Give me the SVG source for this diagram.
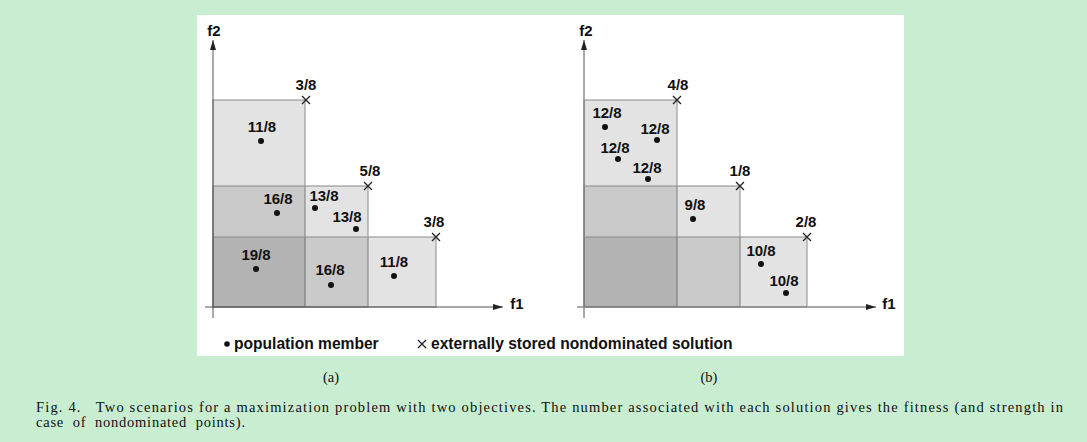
<svg xmlns="http://www.w3.org/2000/svg" width="1087" height="442" viewBox="0 0 1087 442">
<defs>
<style>
.lbl{font-family:"Liberation Sans",Arial,sans-serif;font-weight:bold;font-size:15px;fill:#111;text-anchor:middle}
.leg{font-family:"Liberation Sans",Arial,sans-serif;font-weight:bold;font-size:15.6px;fill:#111}
.ax{stroke:#555;stroke-width:1;fill:none}
.reg{fill:#000;fill-opacity:0.11;stroke:#8a8a8a;stroke-width:1}
.dot{fill:#111}
.xm{stroke:#222;stroke-width:1.3;fill:none}
.cap{font-family:"Liberation Serif","Times New Roman",serif;font-size:14.5px;fill:#111}
</style>
<marker id="ah" viewBox="0 0 10 6" refX="10" refY="3" markerWidth="10" markerHeight="6" markerUnits="userSpaceOnUse" orient="auto">
<path d="M0,0 L10,3 L0,6 Z" fill="#222"/>
</marker>
<g id="xmk"><path class="xm" d="M-4,-4 L4,4 M-4,4 L4,-4"/></g>
</defs>
<rect width="1087" height="442" fill="#c8edd0"/>
<rect x="197" y="15" width="707" height="341" fill="#fff"/>

<!-- Plot (a) -->
<g id="regions-a">
<rect class="reg" x="213" y="100" width="92" height="207"/>
<rect class="reg" x="213" y="186" width="155" height="121"/>
<rect class="reg" x="213" y="237" width="223" height="70"/>
</g>
<g id="connectors">
<line class="ax" x1="213" y1="318" x2="213" y2="40" marker-end="url(#ah)"/>
<line class="ax" x1="205" y1="307" x2="503" y2="307" marker-end="url(#ah)"/>
<line class="ax" x1="584" y1="318" x2="584" y2="40" marker-end="url(#ah)"/>
<line class="ax" x1="577" y1="307" x2="876" y2="307" marker-end="url(#ah)"/>
</g>
<g id="axis-labels">
<text class="lbl" x="214" y="36">f2</text>
<text class="lbl" x="517" y="309">f1</text>
<text class="lbl" x="586" y="36">f2</text>
<text class="lbl" x="889" y="309">f1</text>
</g>
<g id="ext-a">
<use href="#xmk" x="306" y="100"/><text class="lbl" x="306" y="90">3/8</text>
<use href="#xmk" x="368" y="186"/><text class="lbl" x="370" y="176">5/8</text>
<use href="#xmk" x="436" y="237"/><text class="lbl" x="434" y="227">3/8</text>
</g>
<g id="pop-a">
<circle class="dot" cx="261" cy="141" r="3"/><text class="lbl" x="262" y="132">11/8</text>
<circle class="dot" cx="277" cy="213" r="3"/><text class="lbl" x="278" y="204">16/8</text>
<circle class="dot" cx="315" cy="208" r="3"/><text class="lbl" x="324" y="201">13/8</text>
<circle class="dot" cx="356" cy="229" r="3"/><text class="lbl" x="347" y="222">13/8</text>
<circle class="dot" cx="256" cy="269" r="3"/><text class="lbl" x="256" y="260">19/8</text>
<circle class="dot" cx="331" cy="285" r="3"/><text class="lbl" x="330" y="275">16/8</text>
<circle class="dot" cx="394" cy="276" r="3"/><text class="lbl" x="394" y="267">11/8</text>
</g>

<!-- Plot (b) -->
<g id="regions-b">
<rect class="reg" x="584" y="100" width="93" height="207"/>
<rect class="reg" x="584" y="186" width="156" height="121"/>
<rect class="reg" x="584" y="237" width="223" height="70"/>
</g>
<g id="ext-b">
<use href="#xmk" x="677" y="100"/><text class="lbl" x="678" y="90">4/8</text>
<use href="#xmk" x="740" y="186"/><text class="lbl" x="740" y="176">1/8</text>
<use href="#xmk" x="807" y="237"/><text class="lbl" x="806" y="227">2/8</text>
</g>
<g id="pop-b">
<circle class="dot" cx="605" cy="127" r="3"/><text class="lbl" x="607" y="118">12/8</text>
<circle class="dot" cx="657" cy="140" r="3"/><text class="lbl" x="655" y="134">12/8</text>
<circle class="dot" cx="618" cy="159" r="3"/><text class="lbl" x="615" y="153">12/8</text>
<circle class="dot" cx="648" cy="179" r="3"/><text class="lbl" x="647" y="173">12/8</text>
<circle class="dot" cx="693" cy="219" r="3"/><text class="lbl" x="695" y="210">9/8</text>
<circle class="dot" cx="761" cy="264" r="3"/><text class="lbl" x="761" y="256">10/8</text>
<circle class="dot" cx="786" cy="293" r="3"/><text class="lbl" x="784" y="286">10/8</text>
</g>

<!-- Legend -->
<g id="legend">
<circle class="dot" cx="227" cy="344" r="2.8"/>
<text class="leg" x="234" y="349">population member</text>
<use href="#xmk" x="422" y="344"/>
<text class="leg" x="431" y="349">externally stored nondominated solution</text>
</g>

<!-- Captions -->
<text class="cap" x="331" y="382" text-anchor="middle">(a)</text>
<text class="cap" x="709" y="382" text-anchor="middle">(b)</text>
<text class="cap" x="36" y="412" textLength="1027" lengthAdjust="spacing" xml:space="preserve">Fig. 4.   Two scenarios for a maximization problem with two objectives. The number associated with each solution gives the fitness (and strength in</text>
<text class="cap" x="36" y="427" textLength="209" lengthAdjust="spacing" xml:space="preserve">case  of  nondominated  points).</text>
</svg>
